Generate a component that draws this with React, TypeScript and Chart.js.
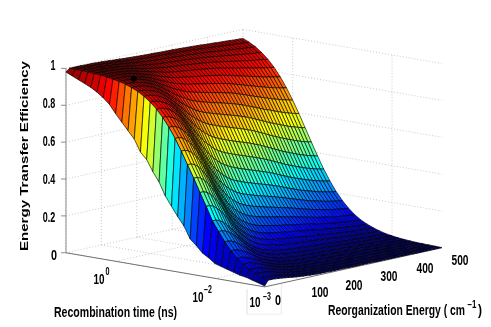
import React, { useEffect, useRef } from "react";
import { Chart, registerables } from "chart.js";

Chart.register(...registerables);

// log10 of the recombination time (ns), back to front
const logTimes = [1,.875,.75,.625,.5,.375,.25,.125,0,-.125,-.25,-.375,-.5,-.625,-.75,-.875,-1,-1.125,-1.25,-1.375,-1.5,-1.625,-1.75,-1.875,-2,-2.125,-2.25,-2.375,-2.5,-2.625,-2.75,-2.875,-3];
// reorganization energy (cm-1)
const energies = [0,10,20,30,40,50,60,70,80,90,100,110,120,130,140,150,160,170,180,190,200,210,220,230,240,250,260,270,280,290,300,310,320,330,340,350,360,370,380,390,400,410,420,430,440,450,460,470,480,490,500];
// efficiency in thousandths: one row per time, one column per energy
const efficiency = [
[980,997,997,997,997,996,996,996,995,994,993,992,991,989,988,987,985,984,983,982,981,980,979,978,978,977,976,975,975,974,974,973,972,971,970,969,968,967,966,964,963,962,961,959,958,957,956,954,953,952,951],
[965,996,996,996,996,995,995,994,993,992,991,989,988,986,984,982,981,979,977,976,974,973,972,971,970,970,969,968,967,966,965,964,963,962,961,959,958,956,955,953,951,950,948,947,945,943,942,940,939,938,936],
[950,995,995,995,994,994,993,992,991,989,988,986,984,982,979,977,974,972,970,968,966,965,963,962,961,960,959,958,956,955,954,953,951,950,948,946,945,943,940,938,936,934,932,930,928,926,924,922,920,918,917],
[935,993,993,993,992,992,991,989,988,986,984,981,978,975,972,969,966,963,960,958,955,953,952,950,949,947,946,944,943,941,940,938,936,934,932,930,927,925,922,919,917,914,911,909,906,903,901,898,896,894,892],
[920,991,991,990,990,989,987,986,984,981,978,975,971,968,963,959,955,951,948,944,941,939,937,935,933,931,929,927,925,923,921,919,917,914,912,909,905,902,899,895,892,888,885,882,878,875,872,869,866,863,861],
[900,988,988,987,986,985,983,981,979,975,971,967,962,957,952,946,941,936,932,927,923,920,917,915,912,910,907,905,903,900,898,895,892,889,886,882,878,874,869,865,861,857,853,848,844,840,836,832,829,826,823],
[875,983,983,983,982,980,978,975,972,967,962,956,950,944,937,930,923,917,911,905,900,896,893,890,886,883,880,877,874,871,868,865,861,857,853,848,844,838,833,828,823,818,813,808,803,797,793,789,784,781,777],
[845,978,978,977,976,974,971,967,962,957,950,943,935,926,917,908,900,892,884,877,871,866,861,857,854,850,846,842,839,835,831,827,823,818,813,807,801,795,789,782,776,770,764,758,752,746,741,736,731,727,723],
[800,971,971,970,968,965,962,957,951,943,935,925,915,904,893,882,871,861,852,843,835,829,824,819,814,810,805,801,796,792,787,782,777,772,766,759,752,745,737,730,723,716,709,702,695,689,683,677,672,667,662],
[760,962,962,960,958,954,949,943,935,926,915,903,890,876,862,848,835,823,812,801,792,785,778,772,767,761,756,751,746,740,735,730,723,717,710,702,694,686,678,670,661,654,647,639,631,624,617,611,605,600,595],
[720,949,949,948,945,940,934,926,915,904,889,874,858,841,824,807,792,777,764,751,740,732,724,718,711,705,699,693,687,681,675,669,662,655,647,639,630,621,612,603,594,586,578,570,562,554,547,541,535,529,524],
[680,934,934,932,927,921,913,904,890,875,858,839,819,799,779,759,740,724,708,694,682,672,664,656,649,642,636,629,622,616,610,603,595,588,580,570,561,552,542,533,524,515,507,499,491,483,476,469,463,458,453],
[615,913,913,911,905,898,888,875,859,840,819,796,773,749,725,702,681,662,645,630,616,605,596,588,581,573,566,559,552,546,539,532,524,516,508,498,489,480,470,461,451,443,435,427,419,411,405,398,393,387,383],
[580,888,888,884,878,868,856,840,820,798,772,745,718,691,664,639,616,596,577,560,546,535,525,517,510,502,495,488,481,474,467,460,452,445,436,427,418,409,400,390,382,374,366,359,351,344,338,332,326,322,317],
[520,856,856,852,844,832,817,798,774,748,718,687,657,627,597,571,546,525,506,489,475,464,454,446,438,431,424,417,410,404,397,390,383,376,368,359,350,342,333,325,317,310,303,296,289,283,277,272,267,263,259],
[470,816,816,811,801,787,769,747,719,689,655,622,589,557,526,498,473,452,433,417,403,392,383,376,368,361,355,348,342,336,330,324,317,310,303,295,287,279,272,264,257,251,245,239,233,227,222,218,214,210,207],
[400,769,769,763,752,735,714,690,658,625,588,552,518,485,455,427,403,383,365,350,337,327,318,312,305,299,292,287,281,276,270,265,258,253,246,239,233,226,219,213,207,201,196,191,186,181,177,173,170,167,164],
[350,714,714,708,694,676,652,625,591,556,517,481,446,414,385,359,336,318,301,287,276,267,260,253,248,242,237,231,227,222,217,212,207,202,197,191,185,179,174,169,163,159,155,150,146,142,139,136,133,130,128],
[300,651,651,644,629,609,583,554,519,483,444,409,376,346,318,295,275,258,243,231,221,214,207,202,197,192,188,184,180,176,172,168,163,159,155,150,145,140,136,131,127,124,120,117,113,110,107,105,103,101,99],
[255,583,583,575,560,538,512,483,447,412,375,341,311,284,259,239,221,207,194,184,176,169,164,160,156,152,148,144,141,138,135,131,128,124,121,117,113,109,106,102,99,96,93,90,88,85,83,81,79,77,76],
[190,516,516,508,492,471,444,416,381,348,314,283,256,232,211,193,178,166,155,147,140,134,130,126,123,120,117,114,111,108,106,103,100,98,95,91,88,85,82,80,77,75,72,70,68,66,64,63,61,60,59],
[160,444,444,436,421,400,375,348,316,286,255,229,205,185,167,152,140,130,121,114,109,104,101,98,95,93,90,88,86,84,82,79,77,75,73,70,68,65,63,61,59,57,55,54,52,50,49,48,47,46,45],
[125,375,375,367,353,333,310,286,257,231,205,182,162,145,130,118,108,101,94,88,84,80,78,75,73,71,69,67,66,64,63,61,59,57,56,54,52,50,48,46,45,43,42,41,39,38,37,36,35,35,34],
[105,302,302,295,283,265,245,224,200,178,157,138,123,109,98,88,81,75,70,65,62,59,57,56,54,52,51,50,48,47,46,45,43,42,41,39,38,37,35,34,33,32,31,30,29,28,27,27,26,25,25],
[80,250,250,244,233,217,200,182,161,143,125,110,97,86,77,69,63,58,54,51,48,46,45,43,42,41,40,39,38,37,36,35,34,33,32,30,29,28,27,26,25,25,24,23,22,22,21,21,20,20,19],
[70,200,200,195,185,172,158,143,126,111,97,85,75,66,59,53,48,45,41,39,37,35,34,33,32,31,30,29,28,28,27,26,25,25,24,23,22,21,21,20,19,19,18,17,17,16,16,16,15,15,14],
[60,157,157,153,145,135,123,111,97,85,74,65,57,50,45,40,36,34,31,29,28,26,25,25,24,23,23,22,21,21,20,20,19,19,18,17,17,16,16,15,14,14,13,13,13,12,12,12,11,11,11],
[50,123,123,119,113,104,95,85,75,65,57,49,43,38,34,30,28,25,24,22,21,20,19,19,18,18,17,17,16,16,15,15,14,14,14,13,13,12,12,11,11,10,10,10,10,9,9,9,9,8,8],
[40,96,96,94,88,82,74,66,58,51,44,38,33,29,26,23,21,19,18,17,16,15,15,14,14,13,13,13,12,12,12,11,11,11,10,10,10,9,9,9,8,8,8,7,7,7,7,7,6,6,6],
[35,74,74,72,68,62,57,51,44,38,33,29,25,22,20,18,16,15,14,13,12,12,11,11,10,10,10,10,9,9,9,9,8,8,8,8,7,7,7,6,6,6,6,6,5,5,5,5,5,5,5],
[25,57,57,55,52,48,43,38,33,29,25,22,19,17,15,13,12,11,10,10,9,9,8,8,8,8,7,7,7,7,7,6,6,6,6,6,5,5,5,5,5,5,4,4,4,4,4,4,4,4,4],
[15,42,42,40,38,35,31,28,24,21,18,16,14,12,11,10,9,8,7,7,7,6,6,6,6,5,5,5,5,5,5,5,5,4,4,4,4,4,4,4,3,3,3,3,3,3,3,3,3,3,3],
[5,32,32,31,29,27,24,22,19,16,14,12,11,9,8,7,7,6,6,5,5,5,5,5,4,4,4,4,4,4,4,4,3,3,3,3,3,3,3,3,3,3,2,2,2,2,2,2,2,2,2],
];

const zTicks = [0, 0.2, 0.4, 0.6, 0.8, 1];
const energyTicks = [0, 100, 200, 300, 400, 500];
const timeTicks = [0, -2];
const marker = { logTime: 0, energy: 51, eff: 0.969 };

const W = 491, H = 327;
const project = (logT: number, en: number, z: number) => {
  const t = (1 - logT) / 4;
  return { x: 63 + 202 * t + 0.36 * en, y: 255 + 35 * t - 0.08 * en - 189 * z };
};

const jet = (v: number) => {
  const c = (a: number) => Math.round(255 * Math.max(0, Math.min(1, 1.5 - Math.abs(4 * v - a))));
  return `rgb(${c(3)},${c(2)},${c(1)})`;
};

const FONT = '"Liberation Sans", Arial, sans-serif';
type Lbl = { s: string; x: number; y: number; w: number; px: number; rot?: boolean };
const labels: Lbl[] = [
  { s: "1", x: 53, y: 66, w: 5, px: 14 },
  { s: "0.8", x: 49, y: 104, w: 12.5, px: 14 },
  { s: "0.6", x: 49, y: 142, w: 12.5, px: 14 },
  { s: "0.4", x: 49, y: 180, w: 12.5, px: 14 },
  { s: "0.2", x: 49, y: 218, w: 12.5, px: 14 },
  { s: "0", x: 54, y: 256, w: 6, px: 14 },
  { s: "0", x: 278, y: 301, w: 6, px: 14 },
  { s: "100", x: 320, y: 293, w: 17, px: 14 },
  { s: "200", x: 354, y: 286, w: 17, px: 14 },
  { s: "300", x: 389, y: 277, w: 17, px: 14 },
  { s: "400", x: 425, y: 269, w: 17, px: 14 },
  { s: "500", x: 460, y: 261, w: 17, px: 14 },
  { s: "10", x: 99, y: 280, w: 11, px: 14 },
  { s: "0", x: 107.5, y: 272, w: 4, px: 10 },
  { s: "10", x: 198, y: 298, w: 11, px: 14 },
  { s: "\u22122", x: 208, y: 290, w: 8, px: 10 },
  { s: "10", x: 255, y: 303, w: 11, px: 14 },
  { s: "\u22123", x: 267, y: 297, w: 8, px: 10 },
  { s: "Recombination time (ns)", x: 115.5, y: 313, w: 123, px: 14 },
  { s: "Reorganization Energy ( cm", x: 396.5, y: 311, w: 137, px: 14 },
  { s: "\u22121", x: 472, y: 305, w: 9, px: 10 },
  { s: ")", x: 480, y: 311, w: 4, px: 14 },
  { s: "Energy Transfer Efficiency", x: 25, y: 156, w: 190, px: 11, rot: true },
];

const facetPlugin = {
  id: "facets",
  beforeDatasetDraw(chart: any, args: any) {
    const ds = chart.data.datasets[args.index];
    if (!ds.facetColor) return;
    const pts = args.meta.data;
    const ctx = chart.ctx;
    ctx.save();
    ctx.beginPath();
    pts.forEach((p: any, i: number) => (i ? ctx.lineTo(p.x, p.y) : ctx.moveTo(p.x, p.y)));
    ctx.closePath();
    ctx.fillStyle = ds.facetColor;
    ctx.fill();
    ctx.restore();
  },
};

const textPlugin = {
  id: "texts",
  afterDraw(chart: any) {
    const ctx = chart.ctx;
    ctx.save();
    ctx.fillStyle = "#000";
    ctx.textAlign = "center";
    ctx.textBaseline = "middle";
    for (const l of labels) {
      ctx.save();
      ctx.font = `bold ${l.px}px ${FONT}`;
      const m = ctx.measureText(l.s).width;
      ctx.translate(l.x, l.y);
      if (l.rot) ctx.rotate(-Math.PI / 2);
      ctx.scale(l.w / m, 1);
      ctx.fillText(l.s, 0, 0);
      ctx.restore();
    }
    ctx.restore();
  },
};

const line = (a: any, b: any, color: string, dash: number[] = [], width = 1) => ({
  data: [a, b],
  showLine: true,
  borderColor: color,
  borderWidth: width,
  borderDash: dash,
  pointRadius: 0,
  fill: false,
});

function buildDatasets() {
  const back: any[] = [];
  const DOT = [1, 2];
  const grid = "#c8c8c8";
  const [tMax, tMin] = [logTimes[0], logTimes[logTimes.length - 1]];
  const [eMin, eMax] = [energies[0], energies[energies.length - 1]];
  for (const z of zTicks) {
    back.push(line(project(tMax, eMin, z), project(tMax, eMax, z), grid, DOT));
    back.push(line(project(tMax, eMax, z), project(tMin, eMax, z), grid, DOT));
  }
  for (const e of energyTicks) {
    back.push(line(project(tMax, e, 0), project(tMax, e, 1), grid, DOT));
    back.push(line(project(tMax, e, 0), project(tMin, e, 0), grid, DOT));
  }
  for (const t of timeTicks) {
    back.push(line(project(t, eMax, 0), project(t, eMax, 1), grid, DOT));
    back.push(line(project(t, eMin, 0), project(t, eMax, 0), grid, DOT));
  }
  back.push(line({ x: 247, y: 292 }, { x: 247, y: 318 }, "#eeeeee"));
  back.push(line({ x: 247, y: 318 }, { x: 282, y: 318 }, "#eeeeee"));
  back.push(line({ x: 282, y: 287 }, { x: 282, y: 318 }, "#eeeeee"));
  back.push(line(project(tMax, eMin, 0), project(tMax, eMin, 1), "#8c8c8c"));
  back.push(line(project(tMax, eMin, 0), project(tMin, eMin, 0), "#707070"));
  back.push(line(project(tMin, eMin, 0), project(tMin, eMax, 0), "#707070"));
  for (const z of zTicks) {
    const p = project(tMax, eMin, z);
    back.push(line({ x: p.x - 5, y: p.y }, p, "#8c8c8c"));
  }
  for (let r = 0; r < logTimes.length - 1; r++) {
    for (let c = energies.length - 2; c >= 0; c--) {
      const z = (i: number, j: number) => efficiency[i][j] / 1000;
      back.push({
        data: [
          project(logTimes[r], energies[c], z(r, c)),
          project(logTimes[r], energies[c + 1], z(r, c + 1)),
          project(logTimes[r + 1], energies[c + 1], z(r + 1, c + 1)),
          project(logTimes[r + 1], energies[c], z(r + 1, c)),
          project(logTimes[r], energies[c], z(r, c)),
        ],
        showLine: true,
        facetColor: jet(z(r, c)),
        borderColor: "rgba(0,0,0,0.8)",
        borderWidth: 0.8,
        pointRadius: 0,
        fill: false,
      });
    }
  }
  back.push({
    data: [project(marker.logTime, marker.energy, marker.eff)],
    showLine: false,
    pointRadius: 3,
    pointBackgroundColor: "#000",
    pointBorderWidth: 0,
  });
  return back.reverse();
}

export default function App() {
  const ref = useRef<HTMLCanvasElement>(null);
  useEffect(() => {
    const chart = new Chart(ref.current as HTMLCanvasElement, {
      type: "scatter",
      data: { datasets: buildDatasets() },
      plugins: [facetPlugin, textPlugin],
      options: {
        animation: false,
        responsive: false,
        devicePixelRatio: 1,
        events: [],
        layout: { padding: 0 },
        plugins: { legend: { display: false }, tooltip: { enabled: false } },
        scales: {
          x: { type: "linear", min: 0, max: W, display: false },
          y: { type: "linear", min: 0, max: H, reverse: true, display: false },
        },
      },
    } as any);
    return () => chart.destroy();
  }, []);
  return (
    <div style={{ position: "absolute", left: 0, top: 0, width: W, height: H }}>
      <canvas ref={ref} width={W} height={H} style={{ display: "block" }} />
    </div>
  );
}
